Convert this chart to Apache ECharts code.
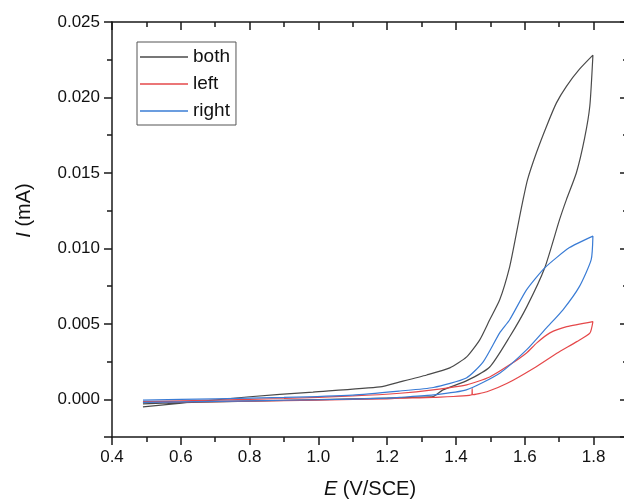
<!DOCTYPE html>
<html>
<head>
<meta charset="utf-8">
<script src="https://cdn.jsdelivr.net/npm/echarts@6/dist/echarts.min.js"></script>
<style>
  html, body { margin: 0; padding: 0; background: #fff; overflow: hidden; }
  #chart { width: 640px; height: 504px; }
</style>
</head>
<body>
<div id="chart"></div>
<script>
// potentials (V/SCE) and currents (mA), forward scan then reverse scan
const bothE = [0.49, 0.6, 0.8, 1.0, 1.2, 1.3, 1.333, 1.362, 1.43, 1.498, 1.556, 1.606, 1.658, 1.701, 1.721, 1.75, 1.774, 1.789, 1.798,
  1.759, 1.721, 1.692, 1.663, 1.634, 1.608, 1.595, 1.585, 1.576, 1.556, 1.527, 1.498, 1.469, 1.431, 1.382, 1.315, 1.237, 1.179, 0.984, 0.792, 0.49];
const bothI = [-0.0003, -0.00022, -0.00012, -0.00002, 0.00008, 0.00014, 0.00017, 0.00062, 0.00122, 0.00214, 0.00414, 0.00614, 0.00871, 0.0119, 0.01323, 0.01501, 0.01732, 0.01943, 0.0228,
  0.02187, 0.02074, 0.01964, 0.01808, 0.01635, 0.01456, 0.01323, 0.0121, 0.01104, 0.00878, 0.00659, 0.00527, 0.00394, 0.00281, 0.00208, 0.00161, 0.00115, 0.00082, 0.00048, 0.00015, -0.00051];

const leftE = [0.49, 0.6, 0.8, 1.0, 1.2, 1.237, 1.334, 1.446, 1.447, 1.448, 1.49, 1.549, 1.626, 1.693, 1.751, 1.789, 1.798,
  1.722, 1.673, 1.635, 1.605, 1.556, 1.498, 1.431, 1.333, 1.237, 1.1, 0.9, 0.7, 0.49];
const leftI = [-0.0002, -0.00018, -0.00012, -0.00005, 0.00003, 0.00007, 0.00013, 0.0003, 0.0007, 0.0003, 0.0005, 0.00106, 0.00206, 0.00305, 0.00382, 0.00438, 0.00515,
  0.00481, 0.0044, 0.00374, 0.00307, 0.00228, 0.00148, 0.00095, 0.00062, 0.0004, 0.00022, 0.00005, -0.00005, -0.00015];

const rightE = [0.49, 0.6, 0.8, 1.0, 1.2, 1.237, 1.334, 1.43, 1.527, 1.605, 1.663, 1.711, 1.759, 1.793, 1.798,
  1.73, 1.658, 1.605, 1.556, 1.527, 1.479, 1.43, 1.334, 1.237, 1.1, 0.9, 0.7, 0.49];
const rightI = [-0.0002, -0.00017, -0.0001, -0.00003, 0.00007, 0.00013, 0.00029, 0.00062, 0.00173, 0.00327, 0.00473, 0.00593, 0.00748, 0.00925, 0.01081,
  0.01005, 0.00871, 0.00725, 0.00527, 0.0044, 0.00248, 0.00141, 0.00078, 0.00055, 0.00028, 0.00012, 0.00003, -0.00005];

const seriesNames = ['both', 'left', 'right'];
const seriesColors = ['#4a4a4a', '#e5484a', '#3a7cd5'];

function pairs(xs, ys) {
  return xs.map((x, i) => [x, ys[i]]);
}

const font = 'Arial, "Liberation Sans", sans-serif';
const chart = echarts.init(document.getElementById('chart'), null, { renderer: 'canvas' });

const axisLine = { show: true, onZero: false, lineStyle: { color: '#1a1a1a', width: 1.5 } };
const tickStyle = { color: '#1a1a1a', width: 1.5 };

chart.setOption({
  animation: false,
  backgroundColor: '#ffffff',
  color: seriesColors,
  grid: { left: 112, top: 22, width: 516, bottom: 67 },
  legend: {
    orient: 'vertical',
    left: 137,
    top: 42,
    padding: [5, 6, 4, 3],
    icon: 'rect',
    itemWidth: 48,
    itemHeight: 1.5,
    itemGap: 7,
    borderColor: '#555',
    borderWidth: 1,
    textStyle: { fontFamily: font, fontSize: 19, lineHeight: 20, color: '#111' },
    data: seriesNames
  },
  xAxis: [
    {
      type: 'value', min: 0.4, max: 1.9, interval: 0.2, position: 'bottom',
      name: '{i|E} (V/SCE)', nameLocation: 'middle', nameGap: 42,
      nameTextStyle: {
        fontFamily: font, fontSize: 20, color: '#111',
        rich: { i: { fontFamily: font, fontSize: 20, fontStyle: 'italic', color: '#111' } }
      },
      axisLine: axisLine,
      axisTick: { show: true, length: 8, inside: false, lineStyle: tickStyle },
      minorTick: { show: true, splitNumber: 2, length: 5, lineStyle: tickStyle },
      axisLabel: { fontFamily: font, fontSize: 17, color: '#111', margin: 12, showMaxLabel: false,
        formatter: v => v.toFixed(1) },
      splitLine: { show: false }
    },
    {
      type: 'value', min: 0.4, max: 1.9, interval: 0.2, position: 'top',
      axisLine: axisLine,
      axisTick: { show: true, length: 8, inside: true, lineStyle: tickStyle },
      minorTick: { show: true, splitNumber: 2, length: 5, lineStyle: tickStyle },
      axisLabel: { show: false },
      splitLine: { show: false }
    }
  ],
  yAxis: [
    {
      type: 'value', min: -0.0025, max: 0.025, splitNumber: 5, position: 'left',
      name: '{i|I} (mA)', nameLocation: 'middle', nameGap: 78,
      nameTextStyle: {
        fontFamily: font, fontSize: 20, color: '#111', padding: [0, 0, 0, 38],
        rich: { i: { fontFamily: font, fontSize: 20, fontStyle: 'italic', color: '#111' } }
      },
      axisLine: axisLine,
      axisTick: { show: true, length: 8, inside: false, lineStyle: tickStyle },
      minorTick: { show: true, splitNumber: 2, length: 5, lineStyle: tickStyle },
      axisLabel: { fontFamily: font, fontSize: 17, color: '#111', margin: 12, showMinLabel: false,
        formatter: v => v.toFixed(3) },
      splitLine: { show: false }
    },
    {
      type: 'value', min: -0.0025, max: 0.025, splitNumber: 5, position: 'right',
      axisLine: axisLine,
      axisTick: { show: true, length: 8, inside: true, lineStyle: tickStyle },
      minorTick: { show: true, splitNumber: 2, length: 5, lineStyle: tickStyle },
      axisLabel: { show: false },
      splitLine: { show: false }
    }
  ],
  series: [
    { name: 'both', type: 'line', data: pairs(bothE, bothI) },
    { name: 'left', type: 'line', data: pairs(leftE, leftI) },
    { name: 'right', type: 'line', data: pairs(rightE, rightI) }
  ].map((s, k) => Object.assign(s, {
    xAxisIndex: 0, yAxisIndex: 0, symbol: 'none', smooth: 0.2,
    lineStyle: { width: 1.2, color: seriesColors[k] },
    itemStyle: { color: seriesColors[k] }
  }))
});
</script>
</body>
</html>
